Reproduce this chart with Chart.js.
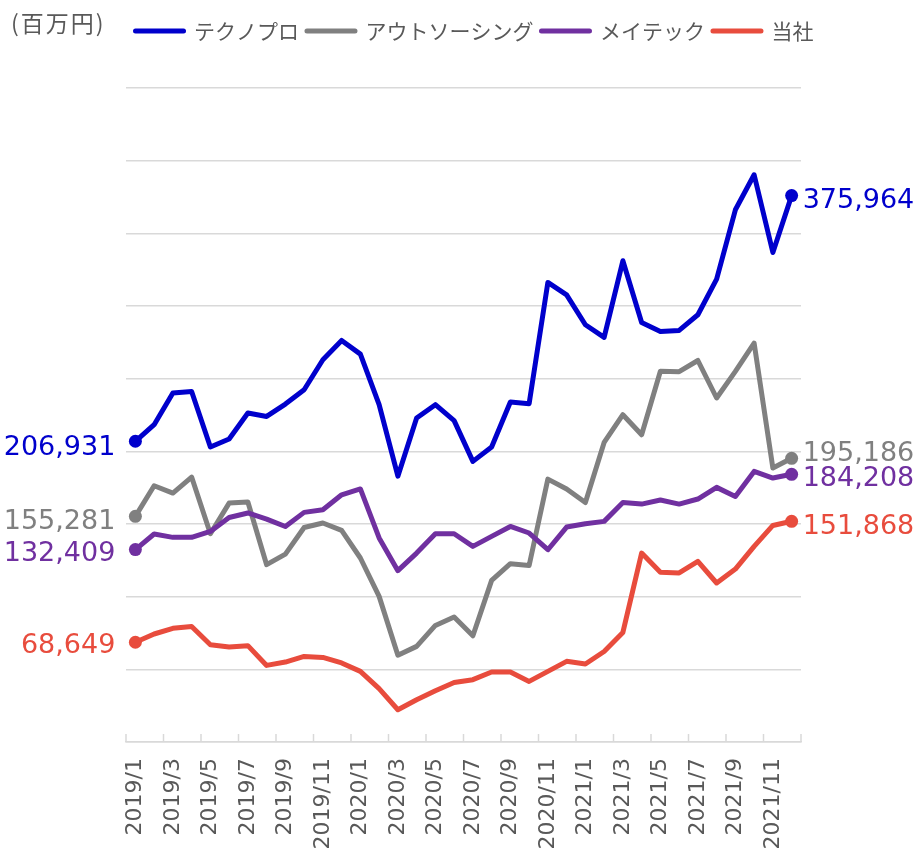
<!DOCTYPE html>
<html>
<head>
<meta charset="utf-8">
<script src="https://cdn.jsdelivr.net/npm/chart.js@4.4.0/dist/chart.umd.min.js"></script>
<style>
  html, body { margin: 0; padding: 0; background: #ffffff; }
  #wrap { width: 919px; height: 859px; }
</style>
</head>
<body>
<div id="wrap"><canvas id="c" width="919" height="859"></canvas></div>
<script>
// ---- data ----
const unitLabel = '(百万円)';
const months = [
  '2019/1','2019/2','2019/3','2019/4','2019/5','2019/6','2019/7','2019/8','2019/9','2019/10','2019/11','2019/12',
  '2020/1','2020/2','2020/3','2020/4','2020/5','2020/6','2020/7','2020/8','2020/9','2020/10','2020/11','2020/12',
  '2021/1','2021/2','2021/3','2021/4','2021/5','2021/6','2021/7','2021/8','2021/9','2021/10','2021/11','2021/12'
];
const seriesNames = ['テクノプロ', 'アウトソーシング', 'メイテック', '当社'];
const technopro = [206931, 218300, 240100, 241200, 203000, 208500, 226400, 224000, 232500, 242400, 263000, 276300,
                   266900, 232100, 182900, 222900, 232100, 221100, 193100, 203000, 233900, 232800, 316200, 307700,
                   287100, 278400, 331100, 288700, 282500, 283200, 294000, 318500, 366200, 390300, 336800, 375964];
const outsourcing = [155281, 176300, 171300, 182300, 143300, 164400, 165100, 122000, 129300, 147600, 150700, 145600,
                     126600, 100200, 59700, 65800, 80200, 86000, 73100, 111200, 122700, 121500, 180900, 174100,
                     164800, 206100, 225200, 211400, 255100, 254800, 262500, 236700, 255000, 274500, 188500, 195186];
const meitec = [132409, 143100, 140800, 140800, 144900, 154500, 157600, 153400, 148300, 158000, 159800, 170100,
                174100, 140400, 117900, 130000, 143300, 143300, 134600, 141500, 148300, 143800, 132300, 147900,
                150200, 151800, 164800, 163700, 166500, 163700, 167200, 175200, 169000, 186200, 181600, 184208];
const ourCompany = [68649, 74300, 78200, 79500, 66900, 65400, 66300, 52700, 55000, 58900, 58200, 54400,
                    48600, 36700, 22200, 29100, 35300, 41000, 42900, 48200, 48200, 41700, 48600, 55500,
                    53700, 62300, 75400, 130000, 116800, 116300, 124300, 109400, 119000, 134600, 149000, 151868];
const yMin = 0, yMax = 450000, yStep = 50000;

// ---- styles ----
const colors = ['#0000CC', '#808080', '#7030A0', '#E84C3D'];
const textColor = '#595959';
const gridColor = '#d9d9d9';
const lineW = 5;
const startLabelDy = [14, 13, 11, 11];
const endLabelDy = [12, 3, 12, 13];

const allSeries = [technopro, outsourcing, meitec, ourCompany];

const datasets = allSeries.map((vals, k) => ({
  label: seriesNames[k],
  data: vals,
  borderColor: colors[k],
  backgroundColor: colors[k],
  borderWidth: lineW,
  borderJoinStyle: 'round',
  borderCapStyle: 'round',
  tension: 0,
  fill: false,
  order: allSeries.length - k,
  pointRadius: (ctx) => (ctx.dataIndex === 0 || ctx.dataIndex === vals.length - 1) ? 6.5 : 0,
  pointHoverRadius: 0,
  pointBackgroundColor: colors[k],
  pointBorderWidth: 0
}));

const unitPlugin = {
  id: 'unitLabel',
  afterDraw(chart) {
    const ctx = chart.ctx;
    ctx.save();
    ctx.font = '23px "Noto Sans CJK JP"';
    ctx.fillStyle = textColor;
    ctx.textAlign = 'left';
    ctx.textBaseline = 'middle';
    if ('letterSpacing' in ctx) ctx.letterSpacing = '2px';
    ctx.fillText(unitLabel, 11, 23);
    ctx.restore();
  }
};

const legendPlace = {
  id: 'legendPlace',
  afterLayout(chart) {
    const lg = chart.legend;
    if (!lg) return;
    const w = lg.right - lg.left, h = lg.bottom - lg.top;
    lg.left = 127.5; lg.right = lg.left + w;
    lg.top = 12.5; lg.bottom = lg.top + h;
  }
};

const tickMarks = {
  id: 'tickMarks',
  afterDraw(chart) {
    const xs = chart.scales.x;
    const ctx = chart.ctx;
    const n = months.length;
    const step = xs.getPixelForValue(1) - xs.getPixelForValue(0);
    ctx.save();
    ctx.strokeStyle = gridColor;
    ctx.lineWidth = 1.5;
    ctx.beginPath();
    for (let i = 0; i <= n; i += 2) {
      const x = (i < n ? xs.getPixelForValue(i) : xs.getPixelForValue(n - 1) + step) - step / 2;
      ctx.moveTo(x, xs.top);
      ctx.lineTo(x, xs.top - 8);
    }
    ctx.stroke();
    ctx.restore();
  }
};

const endLabels = {
  id: 'endLabels',
  afterDatasetsDraw(chart) {
    const ctx = chart.ctx;
    ctx.save();
    ctx.font = '27px "DejaVu Sans"';
    chart.data.datasets.forEach((ds, k) => {
      const meta = chart.getDatasetMeta(k);
      const pts = meta.data;
      const first = pts[0], last = pts[pts.length - 1];
      ctx.fillStyle = ds.borderColor;
      ctx.textBaseline = 'alphabetic';
      ctx.textAlign = 'right';
      ctx.fillText(ds.data[0].toLocaleString('en-US'), first.x - 20, first.y + startLabelDy[k]);
      ctx.textAlign = 'left';
      ctx.fillText(ds.data[ds.data.length - 1].toLocaleString('en-US'), last.x + 11, last.y + endLabelDy[k]);
    });
    ctx.restore();
  }
};

new Chart(document.getElementById('c'), {
  type: 'line',
  data: { labels: months, datasets },
  plugins: [legendPlace, tickMarks, endLabels, unitPlugin],
  options: {
    responsive: false,
    devicePixelRatio: 1,
    animation: false,
    layout: { padding: { left: 0, right: 118, top: 49, bottom: 0 } },
    plugins: {
      tooltip: { enabled: false },
      legend: {
        position: 'top',
        align: 'start',
        labels: {
          usePointStyle: true,
          pointStyle: 'line',
          pointStyleWidth: 48,
          padding: 8,
          color: textColor,
          font: { family: '"Noto Sans CJK JP"', size: 21 },
          generateLabels: (chart) => chart.data.datasets.map((ds, i) => ({
            text: ds.label,
            fillStyle: ds.borderColor,
            strokeStyle: ds.borderColor,
            lineWidth: lineW,
            lineCap: 'round',
            pointStyle: 'line',
            hidden: false,
            datasetIndex: i,
            fontColor: textColor
          })),
          sort: (a, b) => a.datasetIndex - b.datasetIndex
        }
      }
    },
    scales: {
      x: {
        type: 'category',
        offset: true,
        grid: { display: false, drawTicks: false },
        border: { display: true, color: gridColor, width: 1.5 },
        afterFit: (scale) => { scale.height = 117; },
        ticks: {
          autoSkip: false,
          minRotation: 90,
          maxRotation: 90,
          padding: 16,
          color: textColor,
          font: { family: '"DejaVu Sans"', size: 22 },
          callback: (v, i) => (i % 2 === 0 ? months[i] : '')
        }
      },
      y: {
        min: yMin,
        max: yMax,
        afterFit: (scale) => { scale.width = 126; },
        ticks: { display: false, stepSize: yStep },
        grid: { color: gridColor, lineWidth: 1.5, drawTicks: false },
        border: { display: false }
      }
    }
  }
});
</script>
</body>
</html>
